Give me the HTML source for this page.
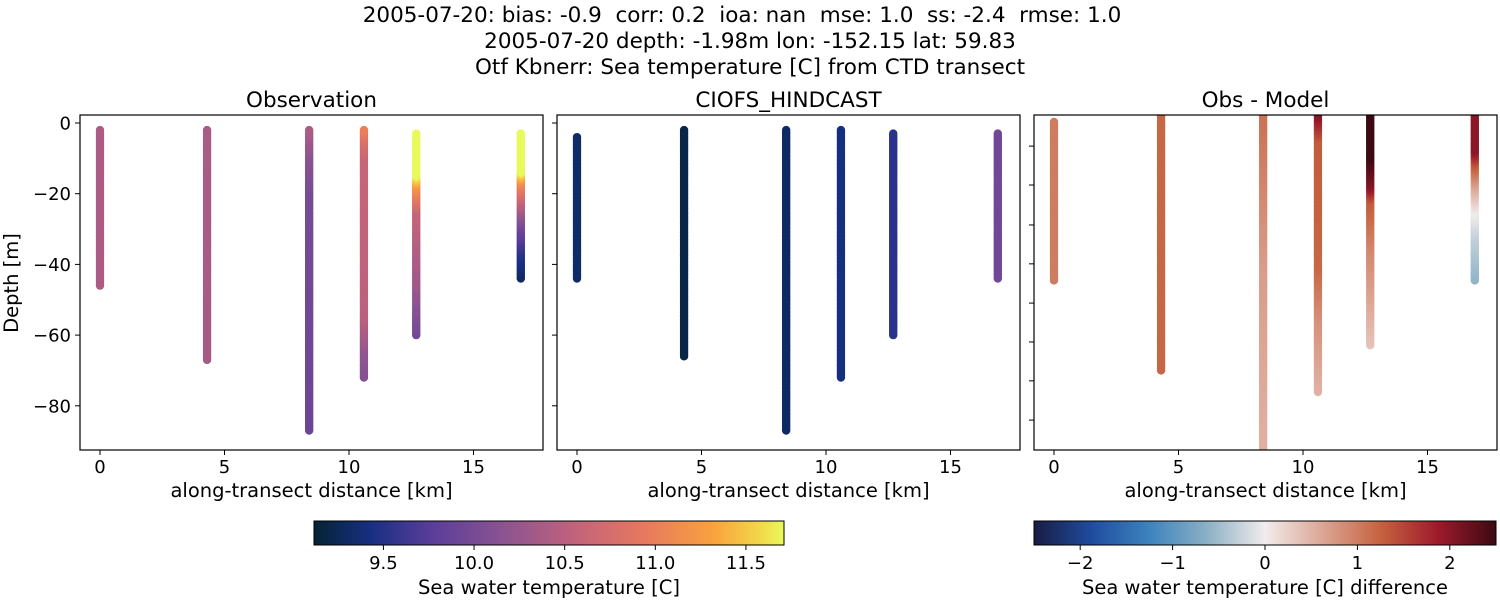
<!DOCTYPE html>
<html><head><meta charset="utf-8"><style>
body{margin:0;background:#fff;font-family:"Liberation Sans","DejaVu Sans",sans-serif}
svg text{font-family:"DejaVu Sans","Liberation Sans",sans-serif;fill:#000;white-space:pre}
</style></head><body>
<svg id="c" width="1500" height="600" xmlns="http://www.w3.org/2000/svg">
<defs>
<linearGradient id="gT" x1="0" x2="1" y1="0" y2="0">
<stop offset="0" stop-color="#042333"/><stop offset="0.12" stop-color="#172f82"/><stop offset="0.25" stop-color="#5a3d9a"/><stop offset="0.4" stop-color="#8a5391"/><stop offset="0.55" stop-color="#c0627c"/><stop offset="0.7" stop-color="#e6785f"/><stop offset="0.85" stop-color="#f9a23e"/><stop offset="0.95" stop-color="#f2d849"/><stop offset="1" stop-color="#e8fa5b"/>
</linearGradient>
<linearGradient id="gB" x1="0" x2="1" y1="0" y2="0">
<stop offset="0" stop-color="#181c43"/><stop offset="0.125" stop-color="#1f4c9f"/><stop offset="0.25" stop-color="#3d83be"/><stop offset="0.375" stop-color="#8bb0c5"/><stop offset="0.5" stop-color="#f1ecec"/><stop offset="0.625" stop-color="#dca594"/><stop offset="0.75" stop-color="#c5623f"/><stop offset="0.875" stop-color="#9d1a2b"/><stop offset="1" stop-color="#3c0912"/>
</linearGradient>
</defs>
<text x="742" y="22" font-size="21.5" text-anchor="middle" xml:space="preserve">2005-07-20: bias: -0.9  corr: 0.2  ioa: nan  mse: 1.0  ss: -2.4  rmse: 1.0</text>
<text x="750" y="48" font-size="21.5" text-anchor="middle">2005-07-20 depth: -1.98m lon: -152.15 lat: 59.83</text>
<text x="750" y="74" font-size="21.5" text-anchor="middle">Otf Kbnerr: Sea temperature [C] from CTD transect</text>
<g id="plots"></g>
</svg>
<script>
const stations=[0,4.3,8.4,10.6,12.7,16.9];
const obsTop=[-2,-2,-2,-2,-3,-3];
const obsBottom=[-46,-67,-87,-72,-60,-44];
const modTop=[-4,-2,-2,-2,-3,-3];
const modBottom=[-44,-66,-87,-72,-60,-44];
const difTop=[0,2,2,2,2,2];
const difBottom=[-44,-69,-95,-75,-62,-44];
const obsProfiles=[[[0,10.4],[-50,10.4]],[[0,10.38],[-70,10.35]],[[0,10.45],[-10,10.15],[-20,10.0],[-90,9.9]],[[0,11.15],[-5,10.8],[-10,10.6],[-55,10.5],[-65,10.2],[-75,10.05]],[[0,11.75],[-15,11.7],[-18,11.2],[-25,10.6],[-45,10.3],[-60,9.95]],[[0,11.75],[-14,11.7],[-17,11.1],[-23,10.5],[-30,9.9],[-37,9.5],[-44,9.28]]];
const modProfiles=[[[0,9.33],[-50,9.33]],[[0,9.2],[-70,9.2]],[[0,9.3],[-90,9.3]],[[0,9.42],[-75,9.42]],[[0,9.52],[-60,9.52]],[[0,9.95],[-44,9.95]]];
const difProfiles=[[[2,1.0],[-50,1.0]],[[2,1.2],[-70,1.2]],[[2,1.1],[-40,0.7],[-95,0.5]],[[2,2.0],[-5,1.3],[-40,1.2],[-55,0.8],[-75,0.5]],[[2,2.5],[-10,2.5],[-18,2.0],[-22,1.3],[-35,0.9],[-62,0.35]],[[2,2.0],[-8,2.0],[-12,1.3],[-18,0.6],[-25,0.0],[-32,-0.3],[-44,-0.6]]];
const xTicks=[0,5,10,15];
const yTicks=[0,-20,-40,-60,-80];
const difYTicks=[-6.7,-17.5,-28.6,-39.4,-50.3,-61.1,-71.9,-82.8];
const thermStops=[[0,'#042333'],[0.12,'#172f82'],[0.25,'#5a3d9a'],[0.4,'#8a5391'],[0.55,'#c0627c'],[0.7,'#e6785f'],[0.85,'#f9a23e'],[0.95,'#f2d849'],[1,'#e8fa5b']];
const balStops=[[0,'#181c43'],[0.125,'#1f4c9f'],[0.25,'#3d83be'],[0.375,'#8bb0c5'],[0.5,'#f1ecec'],[0.625,'#dca594'],[0.75,'#c5623f'],[0.875,'#9d1a2b'],[1,'#3c0912']];
const cbTTicks=['9.5','10.0','10.5','11.0','11.5'];
const cbBTicks=['\u22122','\u22121','0','1','2'];

const NS='http://www.w3.org/2000/svg';
const root=document.getElementById('plots');
function el(t,a,p){const e=document.createElementNS(NS,t);for(const k in a)e.setAttribute(k,a[k]);(p||root).appendChild(e);return e;}
function hx(h){return [1,3,5].map(i=>parseInt(h.substr(i,2),16));}
function cmap(stops,t){t=Math.max(0,Math.min(1,t));for(let i=1;i<stops.length;i++){if(t<=stops[i][0]){const a=stops[i-1],b=stops[i];const f=(t-a[0])/(b[0]-a[0]);const A=hx(a[1]),B=hx(b[1]);return 'rgb('+A.map((v,j)=>Math.round(v+(B[j]-v)*f)).join(',')+')';}}return stops[stops.length-1][1];}
function prof(p,d){if(d>=p[0][0])return p[0][1];for(let i=1;i<p.length;i++){if(d>=p[i][0]){const f=(d-p[i-1][0])/(p[i][0]-p[i-1][0]);return p[i-1][1]+(p[i][1]-p[i-1][1])*f;}}return p[p.length-1][1];}

const H={top:115,bot:450,w:463};
const panels=[
 {x0:80,title:'Observation',name:'observation',tops:obsTop,bots:obsBottom,profs:obsProfiles,stops:thermStops,vmin:9.117,vmax:11.71,y0:123,ppm:3.535,ylabels:true},
 {x0:557,title:'CIOFS_HINDCAST',name:'model',tops:modTop,bots:modBottom,profs:modProfiles,stops:thermStops,vmin:9.117,vmax:11.71,y0:123,ppm:3.535,ylabels:false},
 {x0:1034,title:'Obs - Model',name:'difference',tops:difTop,bots:difBottom,profs:difProfiles,stops:balStops,vmin:-2.5,vmax:2.5,y0:122,ppm:3.6,ylabels:false,ownTicks:true}
];
panels.forEach(P=>{
 const g=el('g',{});
 
 
 const xs=k=>P.x0+20+k*24.9;
 const ys=d=>P.y0-d*P.ppm;
 const cp='clip-'+P.name;
 const cl=el('clipPath',{id:cp},g);el('rect',{x:P.x0,y:H.top,width:H.w,height:H.bot-H.top},cl);
 const mg=el('g',{'clip-path':'url(#'+cp+')'},g);
 stations.forEach((s,i)=>{
  for(let d=P.bots[i];d<=P.tops[i]+0.001;d+=0.5){
   const c=el('circle',{cx:xs(s),cy:ys(d),r:4.2,fill:cmap(P.stops,(prof(P.profs[i],d)-P.vmin)/(P.vmax-P.vmin))},mg);
   
   
  }
 });
 const fr=el('rect',{x:P.x0,y:H.top,width:H.w,height:H.bot-H.top,fill:'none',stroke:'#000','stroke-width':1.2},g);
 
 
 xTicks.forEach(t=>{
  el('line',{x1:xs(t),x2:xs(t),y1:H.bot,y2:H.bot+5,stroke:'#000'},g);
  const tx=el('text',{x:xs(t),y:H.bot+23,'font-size':18,'text-anchor':'middle'},g);tx.textContent=t;
  
  
 });
 const yt=P.ownTicks?difYTicks:yTicks;
 yt.forEach(t=>{
  el('line',{x1:P.x0-5,x2:P.x0,y1:ys(t),y2:ys(t),stroke:'#000'},g);
  if(P.ylabels){const tx=el('text',{x:P.x0-9,y:ys(t)+6.5,'font-size':18,'text-anchor':'end'},g);tx.textContent=t===0?'0':'\u2212'+(-t);
   
   }
 });
 const ti=el('text',{x:P.x0+H.w/2,y:107,'font-size':21.5,'text-anchor':'middle'},g);ti.textContent=P.title;
 
 
 const xl=el('text',{x:P.x0+H.w/2,y:497,'font-size':19.5,'text-anchor':'middle'},g);xl.textContent='along-transect distance [km]';
 
 
 if(P.ylabels){const yl=el('text',{x:18,y:283,'font-size':19.5,'text-anchor':'middle',transform:'rotate(-90 18 283)'},g);yl.textContent='Depth [m]';
  
  }
});
function colorbar(x,w,grad,vmin,vmax,vals,labels,title,name){
 const g=el('g',{});
 
 
 el('rect',{x:x,y:521,width:w,height:24,fill:'url(#'+grad+')',stroke:'#000','stroke-width':1},g);
 vals.forEach((v,i)=>{const px=x+(v-vmin)/(vmax-vmin)*w;
  el('line',{x1:px,x2:px,y1:545,y2:550,stroke:'#000'},g);
  const t=el('text',{x:px,y:569,'font-size':18,'text-anchor':'middle'},g);t.textContent=labels[i];
  
  });
 const t=el('text',{x:x+w/2,y:594,'font-size':19.5,'text-anchor':'middle'},g);t.textContent=title;
 
 
}
colorbar(314,470,'gT',9.117,11.71,[9.5,10,10.5,11,11.5],cbTTicks,'Sea water temperature [C]','temperature-colorbar');
colorbar(1034,462,'gB',-2.5,2.5,[-2,-1,0,1,2],cbBTicks,'Sea water temperature [C] difference','difference-colorbar');
</script>
</body></html>
